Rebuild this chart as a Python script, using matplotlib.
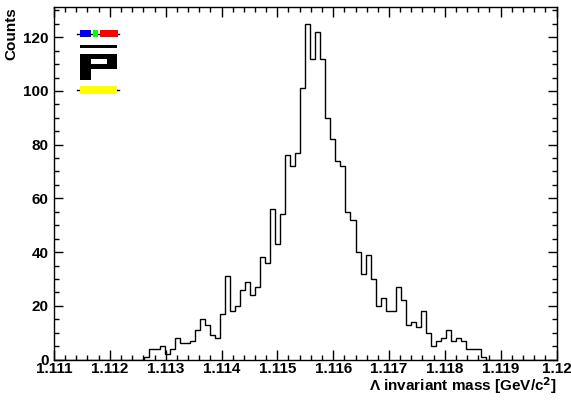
import numpy as np
import matplotlib
matplotlib.use("Agg")
import matplotlib.pyplot as plt
from matplotlib.patches import Rectangle
from matplotlib.lines import Line2D
from matplotlib.ticker import MultipleLocator, FuncFormatter

# histogram: 100 bins between 1.111 and 1.12 GeV/c^2
mass_lo = 1.111
mass_hi = 1.12
n_bins = 100
first_bin = 18  # bins before this one are empty
counts_nonzero = [
    1, 4, 4, 5, 2, 4, 8, 6, 6, 7,
    11, 15, 13, 9, 8, 17, 31, 18, 20, 26,
    29, 24, 27, 38, 36, 56, 43, 54, 76, 72,
    77, 101, 125, 112, 122, 112, 90, 82, 74, 72,
    55, 52, 40, 32, 39, 30, 20, 23, 18, 18,
    27, 22, 13, 14, 12, 18, 10, 5, 7, 8,
    11, 7, 8, 7, 4, 4, 4, 1,
]

counts = np.zeros(n_bins)
counts[first_bin:first_bin + len(counts_nonzero)] = counts_nonzero
edges = np.linspace(mass_lo, mass_hi, n_bins + 1)

plt.rcParams['font.family'] = ['Liberation Sans', 'DejaVu Sans']
plt.rcParams['font.weight'] = 'bold'
plt.rcParams['mathtext.default'] = 'regular'

W, H = 571, 401
fig = plt.figure(figsize=(W / 100, H / 100), dpi=100)
fig.patch.set_facecolor('white')

# frame in pixels (left, top, right, bottom)
fl, ft, fr, fb = 54, 7, 556.5, 359.5
ax = fig.add_axes([fl / W, 1 - fb / H, (fr - fl) / W, (fb - ft) / H])

ax.stairs(counts, edges, color='black', linewidth=1.0)
ax.set_xlim(mass_lo, mass_hi)
ax.set_ylim(0, 1.05 * counts.max())

ax.xaxis.set_major_locator(MultipleLocator(0.001))
ax.xaxis.set_minor_locator(MultipleLocator(0.0002))
ax.xaxis.set_major_formatter(FuncFormatter(lambda v, p: '%g' % v))
ax.yaxis.set_major_locator(MultipleLocator(20))
ax.yaxis.set_minor_locator(MultipleLocator(5))

ax.tick_params(which='both', direction='in', top=True, right=True,
               width=1.0, labelsize=11, colors='black')
ax.tick_params(axis='x', which='major', length=7.5, pad=2)
ax.tick_params(axis='x', which='minor', length=3.8)
ax.tick_params(axis='y', which='major', length=6.5, pad=4)
ax.tick_params(axis='y', which='minor', length=3.6)
for lab in ax.get_xticklabels() + ax.get_yticklabels():
    lab.set_fontweight('bold')
for s in ax.spines.values():
    s.set_linewidth(1.0)

ax.set_ylabel('Counts', loc='top', fontsize=11, fontweight='bold', labelpad=3)
ax.set_xlabel(r'$\Lambda$ invariant mass [GeV/c$^{\mathbf{2}}$]', loc='right',
              fontsize=11, fontweight='bold', labelpad=-1)


# small logo in the upper left corner, given in pixel coordinates from the top-left
def px_rect(x0, y0, x1, y1, color):
    fig.add_artist(Rectangle((x0 / W, 1 - y1 / H), (x1 - x0) / W, (y1 - y0) / H,
                             transform=fig.transFigure, facecolor=color,
                             edgecolor='none', zorder=5))


def px_hline(x0, x1, y, lw=1.0):
    fig.add_artist(Line2D([x0 / W, x1 / W], [1 - y / H, 1 - y / H],
                          transform=fig.transFigure, color='black',
                          linewidth=lw, zorder=4))


px_hline(77, 119, 33.5)
px_rect(80, 29.5, 91, 37, '#0000ff')
px_rect(93, 29.5, 97.7, 37, '#00ff00')
px_rect(100, 29.5, 118, 37, '#ff0000')
px_rect(80, 45, 117, 48, 'black')
px_rect(80, 53.5, 117, 69, 'black')
px_rect(80, 69, 91, 80, 'black')
px_rect(91, 59.5, 107, 63.5, 'white')
px_hline(77, 119, 90)
px_rect(80, 86, 117, 94, '#ffff00')

fig.savefig('out.png', dpi=100)
